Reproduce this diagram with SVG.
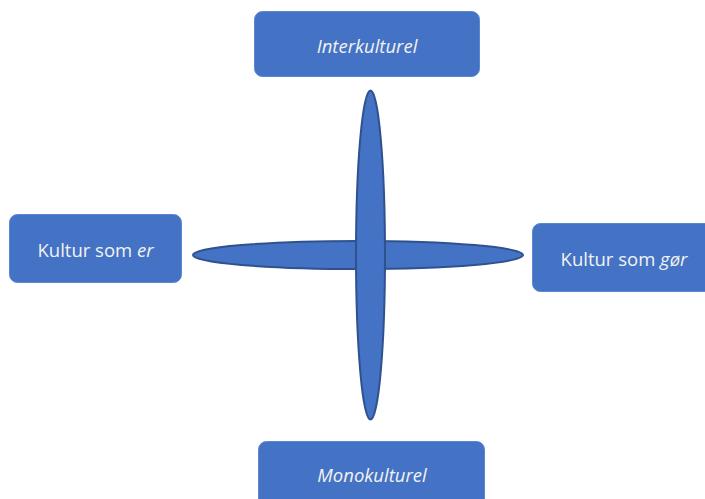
<svg xmlns="http://www.w3.org/2000/svg" width="705" height="499" viewBox="0 0 705 499">
<style>
.box{fill:#4472C4;stroke:#5B86D0;stroke-width:1}
.lbl{fill:#F2F2F2;font-family:"Open Sans","Liberation Sans",sans-serif;font-size:18.5px;text-anchor:middle}
.it{font-style:italic}
.ell{fill:#4472C4;stroke:#2F528F;stroke-width:2}
</style>
<rect width="705" height="499" fill="#FFFFFF"/>
<g id="connectors">
<ellipse class="ell" cx="358" cy="255" rx="165" ry="14"/>
<ellipse class="ell" cx="370.5" cy="255" rx="14.5" ry="164.5"/>
</g>
<g id="interkulturel">
<rect class="box" x="254.5" y="11.5" width="225" height="65" rx="8"/>
<text class="lbl it" x="367" y="53">Interkulturel</text>
</g>
<g id="kultur-som-er">
<rect class="box" x="9.5" y="214.5" width="172" height="68" rx="8"/>
<text class="lbl" x="95.5" y="257">Kultur som <tspan class="it">er</tspan></text>
</g>
<g id="kultur-som-gor">
<rect class="box" x="532.5" y="223.5" width="183" height="68" rx="8"/>
<text class="lbl" x="624" y="266">Kultur som <tspan class="it">gør</tspan></text>
</g>
<g id="monokulturel">
<rect class="box" x="258.5" y="441.5" width="226" height="68" rx="8"/>
<text class="lbl it" x="372" y="482">Monokulturel</text>
</g>
</svg>
